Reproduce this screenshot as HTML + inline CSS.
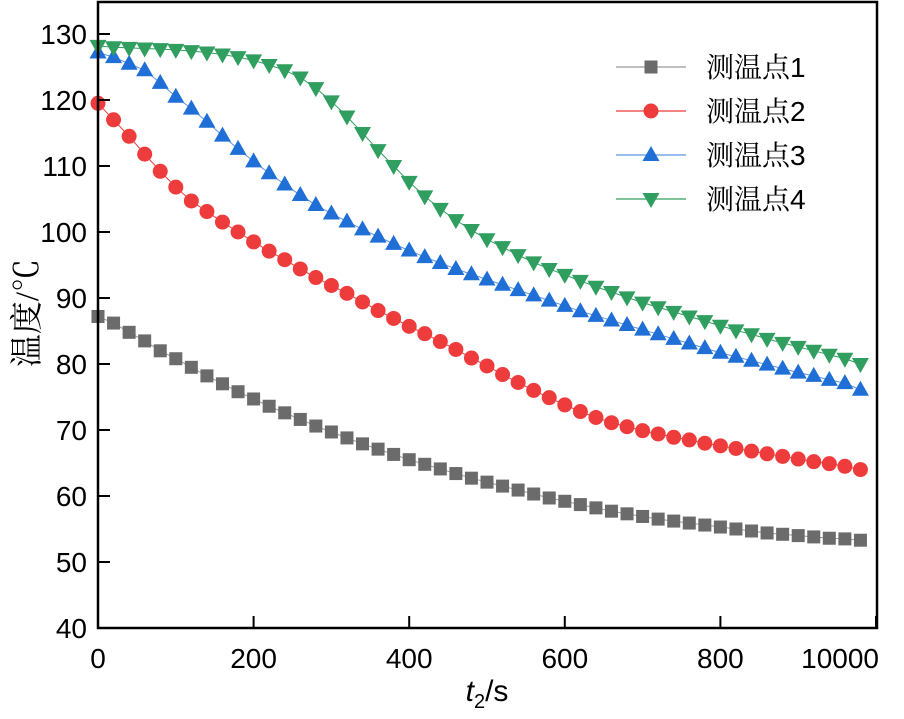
<!DOCTYPE html>
<html><head><meta charset="utf-8"><style>
body{margin:0;background:#fff;width:904px;height:714px;overflow:hidden}
svg text{font-family:"Liberation Sans",Arial,sans-serif;fill:#000}
.cn{font-family:"Liberation Serif","Noto Serif CJK SC",serif}
</style></head><body>
<svg id="chart" width="904" height="714" viewBox="0 0 904 714" xmlns="http://www.w3.org/2000/svg"></svg>
<script>
const times=[];for(let t=0;t<=980;t+=20)times.push(t);
const xTicks=[0,200,400,600,800,1000];
const xTickLabels=["0","200","400","600","800","10000"];
const yTicks=[40,50,60,70,80,90,100,110,120,130];
const s1=[87.2,86.2,84.8,83.5,82,80.8,79.5,78.2,77,75.8,74.7,73.6,72.6,71.6,70.6,69.7,68.8,67.9,67.1,66.3,65.5,64.8,64.1,63.4,62.7,62.1,61.5,60.9,60.3,59.7,59.2,58.7,58.2,57.7,57.3,56.9,56.5,56.2,55.9,55.6,55.3,55.0,54.7,54.4,54.2,54.0,53.8,53.6,53.5,53.3];
const s2=[119.5,117,114.5,111.8,109.2,106.8,104.7,103.1,101.5,100,98.5,97.1,95.8,94.4,93.1,91.9,90.7,89.4,88.1,86.9,85.7,84.6,83.4,82.2,80.9,79.7,78.4,77.2,76,74.9,73.8,72.8,71.9,71.1,70.5,69.9,69.4,68.9,68.5,68,67.6,67.2,66.8,66.4,66,65.6,65.2,64.9,64.5,64.0];
const s3=[127.2,126.5,125.5,124.5,122.6,120.5,118.7,116.7,114.6,112.6,110.7,108.9,107.2,105.6,104.1,102.8,101.6,100.4,99.3,98.2,97.2,96.2,95.3,94.4,93.6,92.8,92,91.2,90.4,89.6,88.8,88,87.3,86.6,85.9,85.2,84.5,83.8,83.1,82.4,81.7,81.1,80.5,79.9,79.3,78.7,78.2,77.6,77.1,76.1];
const s4=[128.2,128,127.9,127.8,127.7,127.6,127.4,127.2,126.9,126.5,126,125.3,124.5,123.4,121.8,119.8,117.5,115,112.4,110,107.6,105.4,103.5,101.8,100.3,98.9,97.7,96.5,95.4,94.4,93.5,92.6,91.7,90.9,90.1,89.3,88.6,87.9,87.2,86.5,85.8,85.1,84.5,83.8,83.2,82.6,82,81.4,80.8,80.0];
const seriesNames=["测温点1","测温点2","测温点3","测温点4"];

const svg=document.getElementById('chart');
const NS="http://www.w3.org/2000/svg";
const L=98,R=877,T=2,B=628;
const X=t=>L+t*(876-98)/1000;
const Y=v=>B-(v-40)*6.6;
function el(tag,attrs,parent){const e=document.createElementNS(NS,tag);for(const k in attrs)e.setAttribute(k,attrs[k]);(parent||svg).appendChild(e);return e;}
const styles=[{c:"#6b6b6b",lc:"#999",m:"sq"},{c:"#ee3b3b",lc:"#ee3b3b",m:"ci"},{c:"#1f6fd6",lc:"#5b93e0",m:"up"},{c:"#2f9e5f",lc:"#2f9e5f",m:"dn"}];
function marker(g,type,x,y,c){
  let e;
  if(type==="sq")e=el('rect',{x:x-6.5,y:y-6.5,width:13,height:13,fill:c},g);
  else if(type==="ci")e=el('circle',{cx:x,cy:y,r:7.5,fill:c},g);
  else if(type==="up")e=el('polygon',{points:`${x},${y-9} ${x-8.5},${y+6} ${x+8.5},${y+6}`,fill:c},g);
  else e=el('polygon',{points:`${x},${y+9} ${x-8.5},${y-6} ${x+8.5},${y-6}`,fill:c},g);
  
  
}
const allS=[s1,s2,s3,s4];
allS.forEach((s,i)=>{
  const g=el('g',{});
  
  
  const pl=el('polyline',{points:s.map((v,j)=>X(times[j])+','+Y(v)).join(' '),fill:'none',stroke:styles[i].lc,'stroke-width':1},g);
  
  
  s.forEach((v,j)=>marker(g,styles[i].m,X(times[j]),Y(v),styles[i].c));
});
const fr=el('rect',{x:L,y:T,width:R-L,height:B-T,fill:'none',stroke:'#000','stroke-width':2.5});


xTicks.forEach((t,i)=>{
  el('line',{x1:X(t),x2:X(t),y1:B,y2:B-12,stroke:'#000','stroke-width':2});
  const last=i===xTicks.length-1;
  const tx=el('text',{x:last?879:X(t),y:668,'font-size':28,'text-anchor':last?'end':'middle'});tx.textContent=xTickLabels[i];
  
  
});
yTicks.forEach(v=>{
  el('line',{x1:L,x2:L+12,y1:Y(v),y2:Y(v),stroke:'#000','stroke-width':2});
  const tx=el('text',{x:87,y:Y(v)+10,'font-size':28,'text-anchor':'end'});tx.textContent=v;
  
  
});
const xt=el('text',{x:487,y:701,'font-size':30,'text-anchor':'middle'});
xt.innerHTML='<tspan font-style="italic">t</tspan><tspan font-size="20" dy="7">2</tspan><tspan dy="-7">/s</tspan>';


const yt=el('text',{x:0,y:0,'font-size':33,'text-anchor':'middle',transform:'translate(38,313) rotate(-90)',class:'cn'});
yt.textContent='温度/℃';


const lg=el('g',{});


seriesNames.forEach((n,i)=>{
  const y=67+i*44;
  el('line',{x1:616,x2:686,y1:y,y2:y,stroke:styles[i].lc,'stroke-width':1.3},lg);
  marker(lg,styles[i].m,651,y,styles[i].c);
  const t=el('text',{x:706,y:y+10,'font-size':28},lg);
  t.innerHTML='<tspan class="cn">'+n.slice(0,3)+'</tspan>'+n.slice(3);
  
  
});
</script>
</body></html>
